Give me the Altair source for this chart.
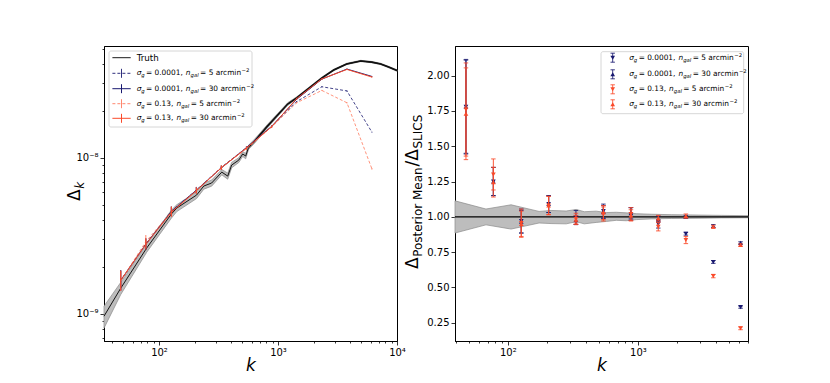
import altair as alt
import pandas as pd

FONT = "DejaVu Sans"
BLUE = "#191970"
RED = "#fa4a2a"
RED_DASH = "#ff7a5e"
BAND_FILL = "#bdbdbd"
BAND_EDGE = "#8a8a8a"

# ---------------- data ----------------
k_bins = [47.7, 77.5, 127, 206, 334, 543, 884, 1434, 2337, 3797, 6150]

truth_k = [34.5, 47.7, 78.8, 127, 141, 207, 238, 277, 337, 378, 408, 468, 505, 535, 567,
           637, 819, 994, 1207, 1436, 1778, 2329, 2938, 3777, 4955, 6127, 7295, 8511, 10000]
truth_val = [9.66e-10, 1.46e-9, 2.64e-9, 4.36e-9, 4.76e-9, 5.77e-9, 6.59e-9, 6.89e-9, 8.09e-9,
             7.63e-9, 8.98e-9, 9.66e-9, 1.057e-8, 1.026e-8, 1.17e-8, 1.28e-8, 1.60e-8, 1.88e-8,
             2.21e-8, 2.42e-8, 2.75e-8, 3.24e-8, 3.65e-8, 3.99e-8, 4.17e-8, 4.10e-8, 3.99e-8,
             3.81e-8, 3.62e-8]
truth_lo = [8.1e-10, 1.33e-9, 2.48e-9, 4.10e-9, 4.52e-9, 5.48e-9, 6.29e-9, 6.58e-9, 7.77e-9,
            7.29e-9, 8.62e-9, 9.32e-9, 1.020e-8, 9.85e-9, 1.135e-8, 1.242e-8, 1.56e-8, 1.84e-8,
            2.166e-8, 2.384e-8, 2.71e-8, 3.20e-8, 3.61e-8, 3.95e-8, 4.13e-8, 4.06e-8, 3.95e-8,
            3.77e-8, 3.58e-8]
truth_hi = [1.12e-9, 1.59e-9, 2.80e-9, 4.62e-9, 5.00e-9, 6.06e-9, 6.89e-9, 7.20e-9, 8.41e-9,
            7.97e-9, 9.34e-9, 1.000e-8, 1.094e-8, 1.067e-8, 1.205e-8, 1.318e-8, 1.64e-8, 1.92e-8,
            2.254e-8, 2.456e-8, 2.79e-8, 3.28e-8, 3.69e-8, 4.03e-8, 4.21e-8, 4.14e-8, 4.03e-8,
            3.85e-8, 3.66e-8]

# left panel: power spectrum estimates
b5_val = [1.64e-9, 2.80e-9, 4.55e-9, 6.20e-9, 8.70e-9, 1.16e-8, 1.58e-8, 2.29e-8, 2.85e-8, 2.68e-8, 1.46e-8]
b5_lo = [1.41e-9, 2.58e-9, 4.25e-9, 5.92e-9, 8.45e-9, 1.14e-8, 1.56e-8, 2.27e-8, 2.83e-8, 2.66e-8, 1.45e-8]
b5_hi = [1.90e-9, 3.04e-9, 4.88e-9, 6.50e-9, 8.96e-9, 1.18e-8, 1.60e-8, 2.31e-8, 2.87e-8, 2.70e-8, 1.47e-8]

b30_val = [1.64e-9, 2.80e-9, 4.52e-9, 6.20e-9, 8.60e-9, 1.16e-8, 1.59e-8, 2.37e-8, 3.19e-8, 3.70e-8, 3.32e-8]
b30_lo = [1.41e-9, 2.58e-9, 4.22e-9, 5.92e-9, 8.38e-9, 1.14e-8, 1.57e-8, 2.35e-8, 3.17e-8, 3.68e-8, 3.30e-8]
b30_hi = [1.90e-9, 3.04e-9, 4.85e-9, 6.50e-9, 8.84e-9, 1.18e-8, 1.61e-8, 2.39e-8, 3.21e-8, 3.72e-8, 3.34e-8]

r5_val = [1.63e-9, 2.90e-9, 4.50e-9, 6.15e-9, 8.66e-9, 1.14e-8, 1.58e-8, 2.25e-8, 2.70e-8, 2.25e-8, 8.5e-9]
r5_lo = [1.40e-9, 2.62e-9, 4.18e-9, 5.85e-9, 8.40e-9, 1.12e-8, 1.56e-8, 2.23e-8, 2.68e-8, 2.23e-8, 8.4e-9]
r5_hi = [1.89e-9, 3.20e-9, 4.88e-9, 6.48e-9, 8.95e-9, 1.17e-8, 1.60e-8, 2.27e-8, 2.72e-8, 2.27e-8, 8.6e-9]

r30_val = [1.64e-9, 2.79e-9, 4.48e-9, 6.15e-9, 8.62e-9, 1.155e-8, 1.58e-8, 2.39e-8, 3.20e-8, 3.68e-8, 3.29e-8]
r30_lo = [1.41e-9, 2.58e-9, 4.20e-9, 5.90e-9, 8.35e-9, 1.13e-8, 1.55e-8, 2.36e-8, 3.17e-8, 3.65e-8, 3.26e-8]
r30_hi = [1.89e-9, 3.05e-9, 4.85e-9, 6.45e-9, 8.90e-9, 1.18e-8, 1.61e-8, 2.42e-8, 3.23e-8, 3.71e-8, 3.32e-8]

# right panel: ratio to SLICS
ratio_b5 = [1.78, 1.25, 0.97, 1.09, 0.995, 1.04, 1.02, 0.95, 0.88, 0.68, 0.36]
err_b5 = [0.335, 0.10, 0.085, 0.06, 0.05, 0.05, 0.045, 0.03, 0.01, 0.01, 0.008]
ratio_b30 = [1.78, 1.25, 0.965, 1.09, 0.975, 1.035, 1.025, 0.985, 1.00, 0.935, 0.815]
err_b30 = [0.33, 0.10, 0.08, 0.06, 0.03, 0.045, 0.04, 0.02, 0.01, 0.01, 0.008]
ratio_r5 = [1.76, 1.30, 0.955, 1.08, 0.985, 1.02, 1.02, 0.93, 0.835, 0.58, 0.21]
err_r5 = [0.33, 0.11, 0.10, 0.065, 0.04, 0.05, 0.045, 0.03, 0.025, 0.012, 0.01]
ratio_r30 = [1.73, 1.245, 0.95, 1.08, 0.98, 1.03, 1.01, 0.99, 1.005, 0.93, 0.80]
err_r30 = [0.325, 0.105, 0.09, 0.065, 0.03, 0.05, 0.04, 0.02, 0.015, 0.01, 0.008]

band_k = [39.3, 68, 106, 174, 215, 281, 336, 387, 478, 572, 682, 814, 971, 1266, 1804, 3058, 4367, 7017]
band_hi = [1.113, 1.055, 1.085, 1.038, 1.045, 1.041, 1.052, 1.036, 1.040, 1.030, 1.032, 1.028,
           1.022, 1.018, 1.015, 1.012, 1.010, 1.008]
band_lo = [0.885, 0.943, 0.913, 0.956, 0.952, 0.950, 0.965, 0.950, 0.960, 0.967, 0.975, 0.972,
           0.980, 0.985, 0.988, 0.990, 0.992, 0.993]
reference_level = [1.0]

legend_sigma = ["0.0001", "0.0001", "0.13", "0.13"]
legend_ngal = ["5", "30", "5", "30"]

# ---------------- helpers ----------------
W, H = 293, 295
DUMMY = pd.DataFrame({"d": [0]})

CW = {' ': 0.318, '0': 0.636, '1': 0.636, '2': 0.636, '3': 0.636, '5': 0.636, '.': 0.318,
      ',': 0.318, '=': 0.838, '−': 0.838, '/': 0.337, 'a': 0.613, 'c': 0.550, 'e': 0.615,
      'g': 0.635, 'h': 0.634, 'i': 0.278, 'k': 0.579, 'l': 0.278, 'm': 0.974, 'n': 0.634,
      'o': 0.612, 'r': 0.411, 's': 0.521, 't': 0.392, 'u': 0.634, 'P': 0.603, 'M': 0.863,
      'S': 0.635, 'L': 0.557, 'I': 0.295, 'C': 0.698, 'T': 0.611, 'σ': 0.603, 'Δ': 0.684}


def tw(s, fs):
    return sum(CW.get(c, 0.6) for c in s) * fs


def text_run(pieces, x0, y0, vertical=False, baseline="middle"):
    out = []
    pos = 0.0
    for txt, fs, ital, shift, gap in pieces:
        pos += gap
        if vertical:
            x, y, ang = x0 + shift, y0 - pos, 270
        else:
            x, y, ang = x0 + pos, y0 + shift, 0
        out.append(
            alt.Chart(DUMMY).mark_text(font=FONT, fontSize=fs,
                                       fontStyle="italic" if ital else "normal",
                                       align="left", baseline=baseline, angle=ang,
                                       color="black")
            .encode(x=alt.value(x), y=alt.value(y), text=alt.value(txt)))
        pos += tw(txt, fs)
    return out


FS, FSS = 7.4, 5.3


def math_label(sig, n):
    return [("σ", FS, True, 0, 0), ("g", FSS, True, 2.0, 0.1),
            (f"= {sig},", FS, False, 0, 1.4), ("n", FS, True, 0, 3.0),
            ("gal", FSS, True, 2.0, 0.1), (f"= {n} arcmin", FS, False, 0, 1.4),
            ("−2", FSS, False, -3.0, 0.3)]


DECADE = "abs(log(datum.value)/LN10 - round(log(datum.value)/LN10)) < 0.001"
TICKSIZE = {"condition": {"test": DECADE, "value": 4}, "value": 2}


def label_expr(pairs):
    parts = [f"abs(datum.value/{v}-1)<0.001 ? '{lab}'" for v, lab in pairs]
    return " : ".join(parts) + " : ''"


def minor_values(lo_exp, hi_exp, start, stop):
    vals = []
    for e in range(lo_exp, hi_exp + 1):
        for m in range(1, 10):
            v = float(f"{m}e{e}")
            if start <= v <= stop:
                vals.append(v)
    return vals


axis_common = dict(grid=False, labelFont=FONT, titleFont=FONT, labelFontSize=10,
                   labelColor="black", domainColor="black", tickColor="black",
                   tickWidth=0.8, labelPadding=2)

# ---------------- left panel ----------------
xsL = alt.Scale(type="log", domain=[34.5, 10000], nice=False)
ysL = alt.Scale(type="log", domain=[6.7e-10, 5.2e-8], nice=False)
axLx = alt.Axis(values=minor_values(1, 4, 35, 10000), tickSize=TICKSIZE,
                labelExpr=label_expr([(100, "10²"), (1000, "10³"), (10000, "10⁴")]),
                title="k", titleFontStyle="italic", titleFontWeight="normal", titleFontSize=17,
                titlePadding=0, labelFlush=False, **axis_common)
axLy = alt.Axis(values=minor_values(-10, -8, 6.7e-10, 5.2e-8), tickSize=TICKSIZE,
                labelExpr=label_expr([(1e-8, "10⁻⁸"), (1e-9, "10⁻⁹")]),
                title=None, labelFlush=False, **axis_common)


def xL(f):
    return alt.X(f"{f}:Q", scale=xsL, axis=axLx)


def yL(f):
    return alt.Y(f"{f}:Q", scale=ysL, axis=axLy)


truth_df = pd.DataFrame({"k": truth_k, "v": truth_val, "lo": truth_lo, "hi": truth_hi})
left_layers = [
    alt.Chart(truth_df).mark_area(color=BAND_FILL, stroke=BAND_EDGE, strokeWidth=0.7)
    .encode(x=xL("k"), y=yL("lo"), y2="hi:Q"),
    alt.Chart(truth_df).mark_line(color="black", strokeWidth=0.9)
    .encode(x=xL("k"), y=yL("v")),
    alt.Chart(truth_df).transform_filter(alt.datum.k >= 560)
    .mark_line(color="#111111", strokeWidth=1.6).encode(x=xL("k"), y=yL("v")),
]


def left_series(vals, lo, hi, color, dashed, opacity):
    df = pd.DataFrame({"k": k_bins, "v": vals, "lo": lo, "hi": hi})
    kw = dict(color=color, strokeWidth=1.0, opacity=opacity)
    if dashed:
        kw["strokeDash"] = [3, 2]
        kw["strokeWidth"] = 0.9
    return [
        alt.Chart(df).mark_line(**kw).encode(x=xL("k"), y=yL("v")),
        alt.Chart(df).mark_rule(color=color, strokeWidth=1.0, opacity=opacity)
        .encode(x=xL("k"), y=yL("lo"), y2="hi:Q"),
    ]


left_layers += left_series(b5_val, b5_lo, b5_hi, BLUE, True, 0.9)
left_layers += left_series(b30_val, b30_lo, b30_hi, BLUE, False, 1.0)
left_layers += left_series(r5_val, r5_lo, r5_hi, RED_DASH, True, 0.9)
left_layers += left_series(r30_val, r30_lo, r30_hi, RED, False, 1.0)

# left legend
left_layers.append(
    alt.Chart(DUMMY).mark_rect(fill="white", fillOpacity=0.85, stroke="#cccccc",
                               strokeWidth=0.8, cornerRadius=2)
    .encode(x=alt.value(5), x2=alt.value(148), y=alt.value(5), y2=alt.value(81)))
rows_L = [11.7, 27.3, 42.7, 57.7, 72.3]
left_layers.append(
    alt.Chart(DUMMY).mark_rule(color="black", strokeWidth=0.9)
    .encode(x=alt.value(8.4), x2=alt.value(26.7), y=alt.value(rows_L[0])))
left_layers += text_run([("Truth", 8.7, False, 0, 0)], 32.7, rows_L[0])
leg_styles = [(BLUE, True, 0.9), (BLUE, False, 1.0), (RED_DASH, True, 0.9), (RED, False, 1.0)]
for i, (col, dashed, op) in enumerate(leg_styles):
    yv = rows_L[i + 1]
    kw = dict(color=col, strokeWidth=1.0, opacity=op)
    if dashed:
        kw["strokeDash"] = [3, 2]
    left_layers.append(alt.Chart(DUMMY).mark_rule(**kw).encode(
        x=alt.value(8.4), x2=alt.value(26.7), y=alt.value(yv)))
    left_layers.append(alt.Chart(DUMMY).mark_rule(color=col, strokeWidth=1.0, opacity=op).encode(
        x=alt.value(17.5), y=alt.value(yv - 4.5), y2=alt.value(yv + 4.5)))
    left_layers += text_run(math_label(legend_sigma[i], legend_ngal[i]), 32.7, yv)

# left y title  Δ_k
left_layers += text_run([("Δ", 17, False, 0, 0), ("k", 12, True, 3.5, 0.5)],
                        -24, 155, vertical=True, baseline="alphabetic")

left = alt.layer(*left_layers).properties(width=W, height=H)

# ---------------- right panel ----------------
xsR = alt.Scale(type="log", domain=[39.3, 7017], nice=False)
ysR = alt.Scale(type="linear", domain=[0.12, 2.21], nice=False, zero=False)
axRx = alt.Axis(values=minor_values(1, 3, 40, 7000), tickSize=TICKSIZE,
                labelExpr=label_expr([(100, "10²"), (1000, "10³")]),
                title="k", titleFontStyle="italic", titleFontWeight="normal", titleFontSize=17,
                titlePadding=0, labelFlush=False, **axis_common)
axRy = alt.Axis(values=[0.25, 0.5, 0.75, 1.0, 1.25, 1.5, 1.75, 2.0], format=".2f",
                tickSize=4, title=None, labelFlush=False, **axis_common)


def xR(f):
    return alt.X(f"{f}:Q", scale=xsR, axis=axRx)


def yR(f):
    return alt.Y(f"{f}:Q", scale=ysR, axis=axRy)


band_df = pd.DataFrame({"k": band_k, "lo": band_lo, "hi": band_hi})
ref_df = pd.DataFrame({"level": reference_level})
right_layers = [
    alt.Chart(band_df).mark_area(color=BAND_FILL, stroke=BAND_EDGE, strokeWidth=0.7)
    .encode(x=xR("k"), y=yR("lo"), y2="hi:Q"),
    alt.Chart(ref_df).mark_rule(color="black", strokeWidth=1.2).encode(y=yR("level")),
]


def right_series(vals, errs, color, shape):
    df = pd.DataFrame({"k": k_bins, "v": vals,
                       "lo": [v - e for v, e in zip(vals, errs)],
                       "hi": [v + e for v, e in zip(vals, errs)]})
    base = alt.Chart(df)
    return [
        base.mark_rule(color=color, strokeWidth=1.1, opacity=0.85)
        .encode(x=xR("k"), y=yR("lo"), y2="hi:Q"),
        base.mark_tick(color=color, orient="horizontal", size=4.5, thickness=1.0, opacity=0.85)
        .encode(x=xR("k"), y=yR("lo")),
        base.mark_tick(color=color, orient="horizontal", size=4.5, thickness=1.0, opacity=0.85)
        .encode(x=xR("k"), y=yR("hi")),
        base.mark_point(shape=shape, filled=True, size=22, color=color, opacity=1)
        .encode(x=xR("k"), y=yR("v")),
    ]


right_layers += right_series(ratio_b5, err_b5, BLUE, "triangle-down")
right_layers += right_series(ratio_b30, err_b30, BLUE, "triangle-up")
right_layers += right_series(ratio_r5, err_r5, RED, "triangle-down")
right_layers += right_series(ratio_r30, err_r30, RED, "triangle-up")

# right legend
right_layers.append(
    alt.Chart(DUMMY).mark_rect(fill="white", fillOpacity=0.85, stroke="#cccccc",
                               strokeWidth=0.8, cornerRadius=2)
    .encode(x=alt.value(146), x2=alt.value(288.7), y=alt.value(5.7), y2=alt.value(67.7)))
rows_R = [11.7, 28.3, 43.3, 58.3]
leg_R = [(BLUE, "triangle-down"), (BLUE, "triangle-up"), (RED, "triangle-down"), (RED, "triangle-up")]
mx = 157.7
for i, (col, shp) in enumerate(leg_R):
    yv = rows_R[i]
    right_layers.append(alt.Chart(DUMMY).mark_rule(color=col, strokeWidth=1.0, opacity=0.85).encode(
        x=alt.value(mx), y=alt.value(yv - 4.5), y2=alt.value(yv + 4.5)))
    for yc in (yv - 4.5, yv + 4.5):
        right_layers.append(alt.Chart(DUMMY).mark_rule(color=col, strokeWidth=1.0, opacity=0.85).encode(
            x=alt.value(mx - 2.2), x2=alt.value(mx + 2.2), y=alt.value(yc)))
    right_layers.append(alt.Chart(DUMMY).mark_point(shape=shp, filled=True, size=22, color=col, opacity=1)
                        .encode(x=alt.value(mx), y=alt.value(yv)))
    right_layers += text_run(math_label(legend_sigma[i], legend_ngal[i]), 174.3, yv)

# right y title  Δ_{Posterior Mean}/Δ_{SLICS}
right_layers += text_run([("Δ", 17, False, 0, 0), ("Posterior Mean", 12, False, 3.5, 0.5),
                          ("/", 17, False, 0, 0.5), ("Δ", 17, False, 0, 0),
                          ("SLICS", 12, False, 3.5, 0.5)],
                         -37, 223, vertical=True, baseline="alphabetic")

right = alt.layer(*right_layers).properties(width=W, height=H)

chart = (
    alt.hconcat(left, right, spacing=58, bounds="flush")
    .properties(padding={"left": 57, "top": 37, "right": 10, "bottom": 5})
    .configure_view(stroke="black", strokeWidth=1)
)

chart.save("out.html", embed_options={"renderer": "svg", "actions": False})
